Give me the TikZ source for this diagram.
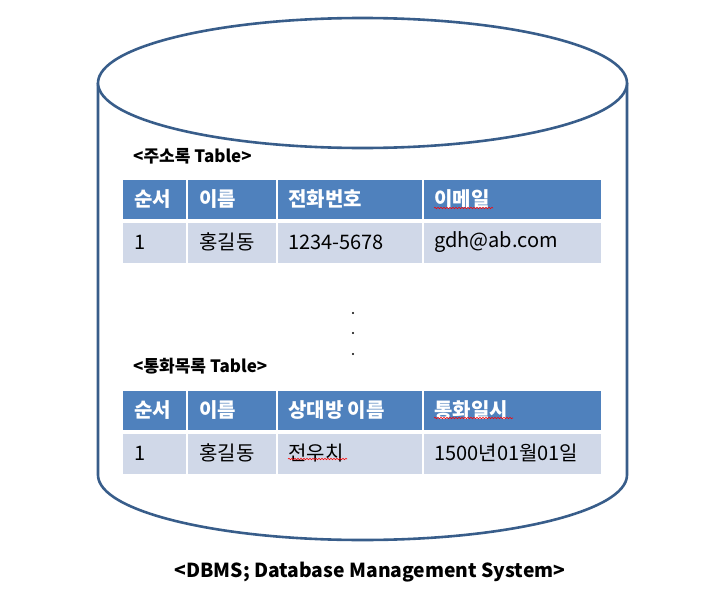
\documentclass[tikz,border=0pt]{standalone}
\usepackage{fontspec}
\setmainfont{Noto Sans CJK KR}
\usetikzlibrary{positioning, calc, decorations.pathmorphing}

\definecolor{dbline}{HTML}{385D8A}
\definecolor{headfill}{HTML}{4F81BD}
\definecolor{rowfill}{HTML}{D0D8E8}

\tikzset{
  headcell/.style={fill=headfill, draw=none},
  rowcell/.style={fill=rowfill, draw=none},
  headtext/.style={anchor=west, inner sep=0pt, text=white, font=\fontsize{20}{22}\selectfont\bfseries},
  rowtext/.style={anchor=west, inner sep=0pt, text=black, font=\fontsize{20}{22}\selectfont},
  tabletitle/.style={anchor=west, inner sep=0pt, font=\fontsize{17}{19}\selectfont\bfseries},
  spellmark/.style={red, line width=0.6pt, decorate, decoration={snake, amplitude=0.7pt, segment length=3pt}}
}

\begin{document}
\begin{tikzpicture}[x=1pt, y=-1pt]
        \useasboundingbox (0,0) rectangle (702,608);

        % Cylinder
        \draw[dbline, line width=2.6pt] (98,83) -- (98,475)
            arc[start angle=180, end angle=0, x radius=264.5, y radius=65] -- (627,83);
        \draw[dbline, line width=2.6pt, fill=white] (362.5,83) ellipse[x radius=264.5, y radius=65];

        % Table 1
        \node[tabletitle] (title1) at (133,156) {<주소록 Table>};
        \fill[headcell] (123,180) rectangle (186,219);
        \fill[headcell] (188,180) rectangle (276,219);
        \fill[headcell] (278,180) rectangle (422,219);
        \fill[headcell] (424,180) rectangle (601,219);
        \fill[rowcell] (123,223) rectangle (186,263);
        \fill[rowcell] (188,223) rectangle (276,263);
        \fill[rowcell] (278,223) rectangle (422,263);
        \fill[rowcell] (424,223) rectangle (601,263);
        \node[headtext] (a11) at (134,199.5) {순서};
        \node[headtext] (a12) at (199,199.5) {이름};
        \node[headtext] (a13) at (288,199.5) {전화번호};
        \node[headtext] (a14) at (434,199.5) {이메일};
        \node[rowtext] (a21) at (134,242) {1};
        \node[rowtext] (a22) at (199,242) {홍길동};
        \node[rowtext] (a23) at (288,242) {1234-5678};
        \node[rowtext] (a24) at (434,242) {gdh@ab.com};
        \draw[spellmark] (434,208) -- (493,208);

        % Dots
        \foreach \y in {313, 333, 354} { \fill (353,\y) circle (1.2); }

        % Table 2
        \node[tabletitle] (title2) at (133,366) {<통화목록 Table>};
        \fill[headcell] (123,391) rectangle (186,430);
        \fill[headcell] (188,391) rectangle (276,430);
        \fill[headcell] (278,391) rectangle (422,430);
        \fill[headcell] (424,391) rectangle (601,430);
        \fill[rowcell] (123,434) rectangle (186,474);
        \fill[rowcell] (188,434) rectangle (276,474);
        \fill[rowcell] (278,434) rectangle (422,474);
        \fill[rowcell] (424,434) rectangle (601,474);
        \node[headtext] (b11) at (134,410.5) {순서};
        \node[headtext] (b12) at (199,410.5) {이름};
        \node[headtext] (b13) at (288,410.5) {상대방 이름};
        \node[headtext] (b14) at (434,410.5) {통화일시};
        \node[rowtext] (b21) at (134,453) {1};
        \node[rowtext] (b22) at (199,453) {홍길동};
        \node[rowtext] (b23) at (288,453) {전우치};
        \node[rowtext] (b24) at (434,453) {1500년01월01일};
        \draw[spellmark] (434,418) -- (513,418);
        \draw[spellmark] (288,459) -- (347,459);

        % Caption
        \node[font=\fontsize{19.3}{22}\selectfont\bfseries] (caption) at (370,572) {<DBMS; Database Management System>};
\end{tikzpicture}
\end{document}
